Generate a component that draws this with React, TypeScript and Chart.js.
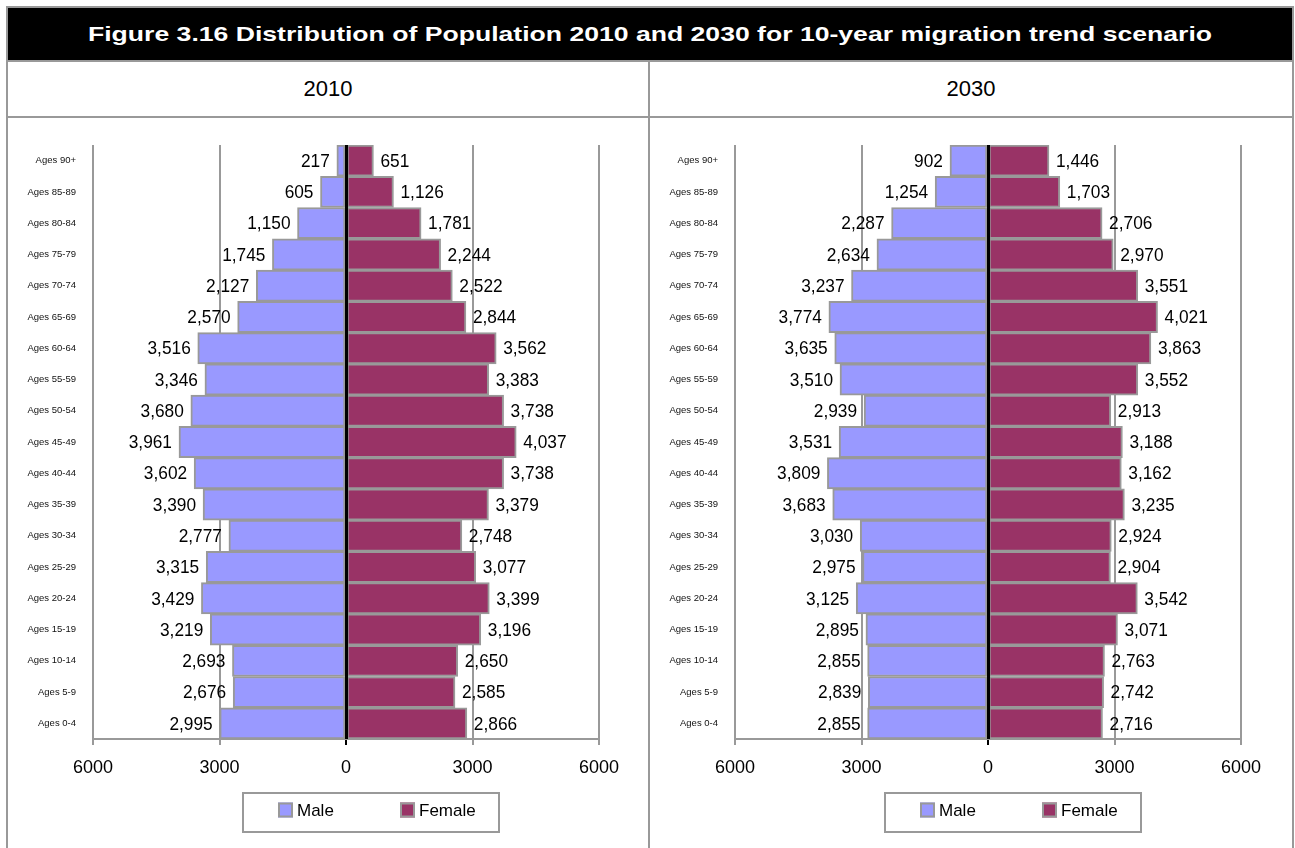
import React, { useEffect, useLayoutEffect, useRef } from "react";
import { Chart, registerables } from "chart.js";

Chart.register(...registerables);

// ---------- DATA ----------
const AGE_LABELS = [
  "Ages 90+", "Ages 85-89", "Ages 80-84", "Ages 75-79", "Ages 70-74",
  "Ages 65-69", "Ages 60-64", "Ages 55-59", "Ages 50-54", "Ages 45-49",
  "Ages 40-44", "Ages 35-39", "Ages 30-34", "Ages 25-29", "Ages 20-24",
  "Ages 15-19", "Ages 10-14", "Ages 5-9", "Ages 0-4",
];

const MALE_2010 = [217, 605, 1150, 1745, 2127, 2570, 3516, 3346, 3680, 3961, 3602, 3390, 2777, 3315, 3429, 3219, 2693, 2676, 2995];
const FEMALE_2010 = [651, 1126, 1781, 2244, 2522, 2844, 3562, 3383, 3738, 4037, 3738, 3379, 2748, 3077, 3399, 3196, 2650, 2585, 2866];
const MALE_2030 = [902, 1254, 2287, 2634, 3237, 3774, 3635, 3510, 2939, 3531, 3809, 3683, 3030, 2975, 3125, 2895, 2855, 2839, 2855];
const FEMALE_2030 = [1446, 1703, 2706, 2970, 3551, 4021, 3863, 3552, 2913, 3188, 3162, 3235, 2924, 2904, 3542, 3071, 2763, 2742, 2716];

const X_TICKS = [-6000, -3000, 0, 3000, 6000];
const SERIES_NAMES = ["Male", "Female"];
const PANEL_TITLES = ["2010", "2030"];
const FIGURE_TITLE = "Figure 3.16 Distribution of Population 2010 and 2030 for 10-year migration trend scenario";

// ---------- STYLE ----------
const MALE_COLOR = "#9999FF";
const FEMALE_COLOR = "#993366";
const GRAY = "#999999";
const SANS = "'Liberation Sans', Arial, Helvetica, sans-serif";

const fmt = (v: number) => String(Math.round(v)).replace(/\B(?=(\d{3})+(?!\d))/g, ",");

const zeroLinePlugin = {
  id: "zeroLine",
  afterDatasetsDraw(chart: any) {
    const { ctx, chartArea, scales } = chart;
    const x = Math.round(scales.x.getPixelForValue(0)) + 0.5;
    ctx.save();
    ctx.strokeStyle = "#000";
    ctx.lineWidth = 3;
    ctx.beginPath();
    ctx.moveTo(x, chartArea.top);
    ctx.lineTo(x, chartArea.bottom);
    ctx.stroke();
    ctx.restore();
  },
};

const valueLabelPlugin = {
  id: "valueLabels",
  afterDatasetsDraw(chart: any) {
    const ctx = chart.ctx;
    chart.data.datasets.forEach((ds: any, di: number) => {
      const meta = chart.getDatasetMeta(di);
      meta.data.forEach((el: any, i: number) => {
        const raw = ds.data[i] as number;
        const isLeft = raw < 0;
        const gap = 7;
        ctx.save();
        ctx.font = `19px ${SANS}`;
        ctx.fillStyle = "#000";
        ctx.textBaseline = "middle";
        ctx.textAlign = isLeft ? "right" : "left";
        ctx.translate(isLeft ? el.x - gap : el.x + gap, el.y + 1);
        ctx.scale(0.91, 1);
        ctx.fillText(fmt(Math.abs(raw)), 0, 0);
        ctx.restore();
      });
    });
  },
};

const legendBoxPlugin = {
  id: "legendBox",
  afterDraw(chart: any, _args: any, opts: any) {
    const { ctx } = chart;
    const { left, top, width, height, itemOffset, itemStep } = opts;
    ctx.save();
    ctx.strokeStyle = GRAY;
    ctx.lineWidth = 2;
    ctx.strokeRect(left, top, width, height);
    chart.data.datasets.forEach((ds: any, i: number) => {
      const sx = left + itemOffset + i * itemStep;
      const cy = top + height / 2 - 3;
      ctx.fillStyle = ds.backgroundColor;
      ctx.fillRect(sx, cy - 7, 15, 15);
      ctx.strokeStyle = GRAY;
      ctx.lineWidth = 2;
      ctx.strokeRect(sx + 1, cy - 6, 13, 13);
      ctx.fillStyle = "#000";
      ctx.font = `17px ${SANS}`;
      ctx.textBaseline = "middle";
      ctx.textAlign = "left";
      ctx.fillText(ds.label, sx + 19, cy + 1.5);
    });
    ctx.restore();
  },
};

type PanelProps = {
  male: number[];
  female: number[];
  left: number;
  top: number;
  width: number;
  height: number;
  padRight: number;
};

function PyramidChart({ male, female, left, top, width, height, padRight }: PanelProps) {
  const ref = useRef<HTMLCanvasElement | null>(null);

  useEffect(() => {
    if (!ref.current) return;
    const chart = new Chart(ref.current, {
      type: "bar",
      data: {
        labels: AGE_LABELS,
        datasets: [
          {
            label: SERIES_NAMES[0],
            data: male.map((v) => -v),
            backgroundColor: MALE_COLOR,
            borderColor: GRAY,
            borderWidth: 2,
            borderSkipped: false,
            categoryPercentage: 1,
            barPercentage: 1,
          },
          {
            label: SERIES_NAMES[1],
            data: female.slice(),
            backgroundColor: FEMALE_COLOR,
            borderColor: GRAY,
            borderWidth: 2,
            borderSkipped: false,
            categoryPercentage: 1,
            barPercentage: 1,
          },
        ],
      },
      options: {
        indexAxis: "y",
        animation: false,
        responsive: false,
        maintainAspectRatio: false,
        devicePixelRatio: 1,
        layout: { padding: { top: 27, right: padRight, bottom: 59, left: 0 } },
        plugins: {
          legend: { display: false },
          tooltip: { enabled: false },
          title: { display: false },
          legendBox: { left: 235, top: 675, width: 256, height: 39, itemOffset: 35, itemStep: 122 },
        } as any,
        scales: {
          x: {
            type: "linear",
            min: -6000,
            max: 6000,
            stacked: true,
            afterBuildTicks: (scale: any) => {
              scale.ticks = X_TICKS.map((v) => ({ value: v }));
            },
            afterFit: (scale: any) => {
              scale.height = 50;
            },
            ticks: {
              autoSkip: false,
              maxRotation: 0,
              padding: 12,
              color: "#000",
              font: { family: SANS, size: 18 },
              callback: (v: any) => String(Math.abs(Number(v))),
            },
            grid: {
              color: (c: any) => (c.tick && c.tick.value === 0 ? "#000" : GRAY),
              lineWidth: 2,
              drawTicks: true,
              tickLength: 6,
            },
            border: { display: true, color: GRAY, width: 2 },
          },
          y: {
            type: "category",
            stacked: true,
            afterFit: (scale: any) => {
              scale.width = 85;
            },
            ticks: {
              autoSkip: false,
              padding: 9,
              color: "#111",
              font: { family: SANS, size: 9.5 },
            },
            grid: { display: false },
            border: { display: false },
          },
        },
      } as any,
      plugins: [zeroLinePlugin, valueLabelPlugin, legendBoxPlugin],
    });
    return () => chart.destroy();
  }, [male, female, padRight]);

  return (
    <canvas
      ref={ref}
      width={width}
      height={height}
      style={{ position: "absolute", left, top, width, height, display: "block" }}
    />
  );
}

function FigureTitle() {
  const ref = useRef<HTMLSpanElement | null>(null);
  useLayoutEffect(() => {
    const el = ref.current;
    if (!el) return;
    const w = el.offsetWidth;
    if (w > 0) el.style.transform = `scaleX(${1124 / w})`;
  }, []);
  return (
    <div
      style={{
        position: "absolute",
        left: 8,
        top: 8,
        width: 1284,
        height: 52,
        background: "#000",
        display: "flex",
        alignItems: "center",
        justifyContent: "center",
        overflow: "hidden",
      }}
    >
      <span
        ref={ref}
        style={{
          display: "inline-block",
          whiteSpace: "nowrap",
          color: "#fff",
          fontFamily: SANS,
          fontWeight: "bold",
          fontSize: 21,
          lineHeight: "24px",
          transformOrigin: "center center",
        }}
      >
        {FIGURE_TITLE}
      </span>
    </div>
  );
}

export default function App() {
  const line = (l: number, t: number, w: number, h: number) => (
    <div style={{ position: "absolute", left: l, top: t, width: w, height: h, background: GRAY }} />
  );
  return (
    <div
      style={{
        position: "absolute",
        left: 0,
        top: 0,
        width: 1295,
        height: 848,
        overflow: "hidden",
        background: "#fff",
      }}
    >
      {/* outer borders */}
      {line(6, 6, 1288, 2)}
      {line(6, 6, 2, 860)}
      {line(1292, 6, 2, 860)}
      <FigureTitle />
      {line(8, 60, 1284, 2)}
      {/* header row */}
      {line(648, 62, 2, 800)}
      {line(8, 116, 1284, 2)}
      {PANEL_TITLES.map((t, i) => (
        <div
          key={t}
          style={{
            position: "absolute",
            left: i === 0 ? 8 : 650,
            top: 62,
            width: i === 0 ? 640 : 642,
            height: 54,
            display: "flex",
            alignItems: "center",
            justifyContent: "center",
            fontFamily: SANS,
            fontSize: 22,
            color: "#000",
          }}
        >
          {t}
        </div>
      ))}
      <PyramidChart male={MALE_2010} female={FEMALE_2010} left={8} top={118} width={640} height={730} padRight={49} />
      <PyramidChart male={MALE_2030} female={FEMALE_2030} left={650} top={118} width={642} height={730} padRight={51} />
    </div>
  );
}
